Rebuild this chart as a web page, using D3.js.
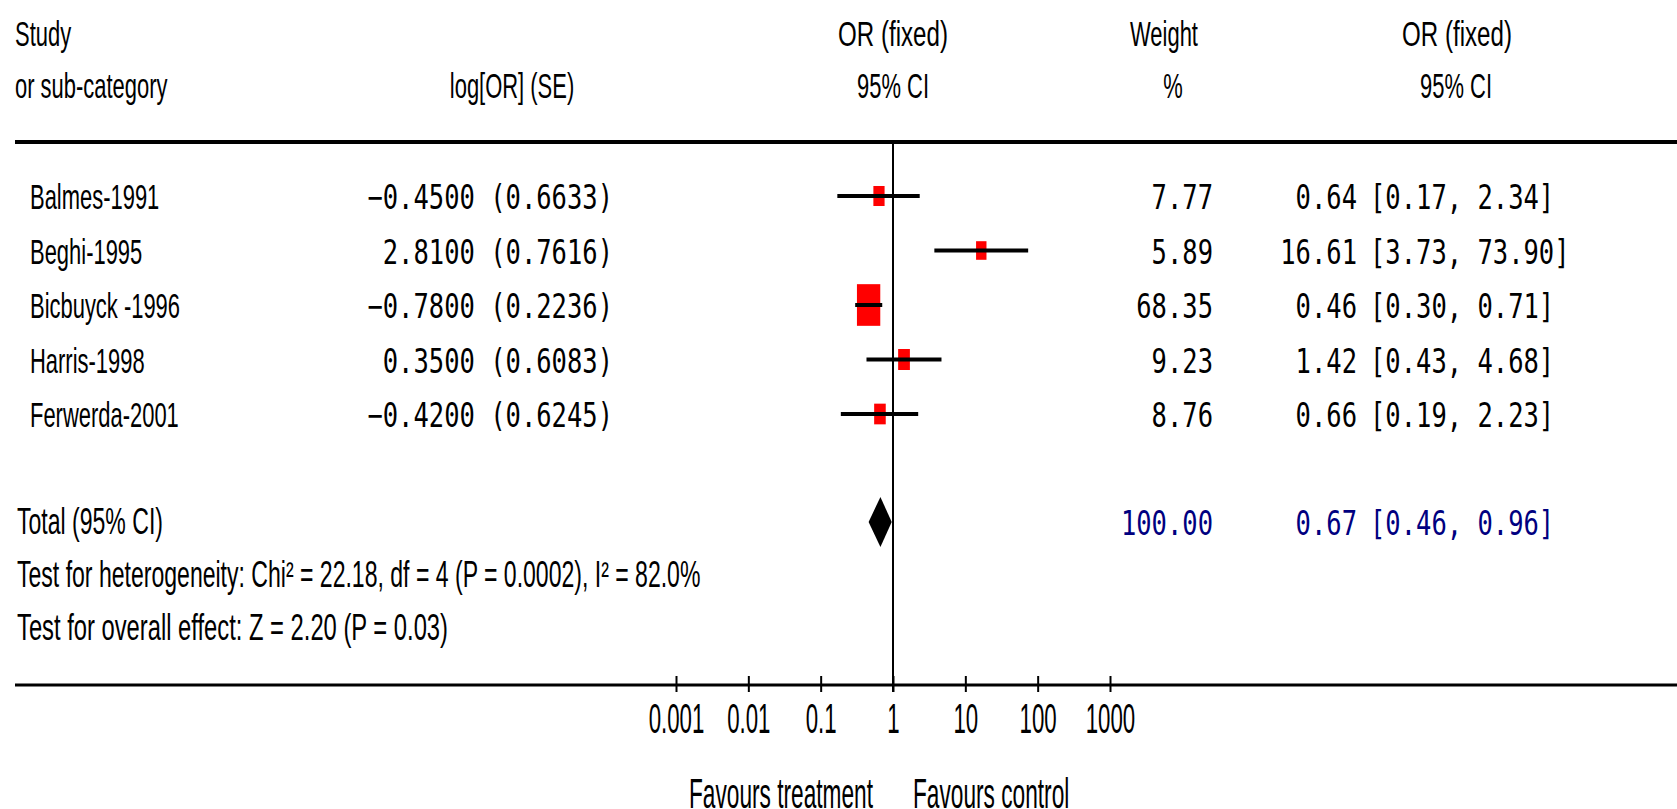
<!DOCTYPE html>
<html>
<head>
<meta charset="utf-8">
<script src="https://cdn.jsdelivr.net/npm/d3@7"></script>
<style>
  html, body { margin: 0; padding: 0; background: #fff; }
  svg { display: block; }
  text { white-space: pre; }
</style>
</head>
<body>
<svg id="chart"></svg>
<script>
const studies = ['Balmes-1991', 'Beghi-1995', 'Bicbuyck -1996', 'Harris-1998', 'Ferwerda-2001']
const logOR = [-0.45, 2.81, -0.78, 0.35, -0.42]
const logSE = [0.6633, 0.7616, 0.2236, 0.6083, 0.6245]
const weights = [7.77, 5.89, 68.35, 9.23, 8.76]
const oddsRatios = [0.64, 16.61, 0.46, 1.42, 0.66]
const ciLow = [0.17, 3.73, 0.30, 0.43, 0.19]
const ciHigh = [2.34, 73.90, 0.71, 4.68, 2.23]

const totalOR = 0.67
const totalLow = 0.46
const totalHigh = 0.96
const totalWeight = 100

const tickValues = [0.001, 0.01, 0.1, 1, 10, 100, 1000]
const tickLabels = ['0.001', '0.01', '0.1', '1', '10', '100', '1000']

const heterogeneity = 'Test for heterogeneity: Chi\u00b2 = 22.18, df = 4 (P = 0.0002), I\u00b2 = 82.0%'
const overallEffect = 'Test for overall effect: Z = 2.20 (P = 0.03)'

const width = 1677
const height = 809
const sans = '"Liberation Sans", Arial, sans-serif'
const mono = '"DejaVu Sans Mono", "Liberation Mono", monospace'

const rows = studies.map((name, i) => ({
  name,
  logOR: logOR[i],
  se: logSE[i],
  weight: weights[i],
  or: oddsRatios[i],
  lo: ciLow[i],
  hi: ciHigh[i]
}))

const svg = d3.select('#chart').attr('width', width).attr('height', height)

const x = d3.scaleLog()
  .domain([0.001, 1000])
  .range([676, 1110])

const y = d3.scalePoint()
  .domain(studies)
  .range([196, 414])

const boxH = d3.scalePow().exponent(0.5)
  .domain([0, 100])
  .range([9, 48.5])

const totalY = 522
const topLineY = 142
const axisY = 685

// condensed text: scale glyphs horizontally around the anchor point
function label(g, px, py, str, opts = {}) {
  return g.append('text')
    .attr('transform', `translate(${px},${py}) scale(${opts.sx || 0.61},1)`)
    .attr('text-anchor', opts.anchor || 'start')
    .attr('font-family', opts.family || sans)
    .attr('font-size', opts.size || 36)
    .attr('fill', opts.fill || '#000')
    .text(str)
}

const monoOpts = { family: mono, size: 34, sx: 0.75 }
const fmt2 = d3.format('.2f')
const fmt4 = d3.format('.4f')

const orEnd = 1357
const ciStart = 1370

// header
const head = svg.append('g').attr('class', 'header')
label(head, 15, 46, 'Study')
label(head, 15, 98, 'or sub-category')
label(head, 512, 98, 'log[OR] (SE)', { anchor: 'middle' })
label(head, x(1), 46, 'OR (fixed)', { anchor: 'middle', sx: 0.67 })
label(head, x(1), 98, '95% CI', { anchor: 'middle' })
label(head, 1164, 46, 'Weight', { anchor: 'middle' })
label(head, 1173, 98, '%', { anchor: 'middle' })
label(head, 1457, 46, 'OR (fixed)', { anchor: 'middle', sx: 0.67 })
label(head, 1456, 98, '95% CI', { anchor: 'middle' })

svg.append('line')
  .attr('x1', 15).attr('x2', width)
  .attr('y1', topLineY).attr('y2', topLineY)
  .attr('stroke', '#000').attr('stroke-width', 4)

// line of no effect
svg.append('line')
  .attr('x1', x(1)).attr('x2', x(1))
  .attr('y1', topLineY).attr('y2', axisY + 7)
  .attr('stroke', '#000').attr('stroke-width', 2)

// study rows
const rowG = svg.append('g').attr('class', 'rows')
  .selectAll('g.row')
  .data(rows)
  .join('g')
  .attr('class', 'row')

rowG.append('rect')
  .attr('x', d => x(d.or) - boxH(d.weight) * 0.56 / 2)
  .attr('y', d => y(d.name) - boxH(d.weight) / 2)
  .attr('width', d => boxH(d.weight) * 0.56)
  .attr('height', d => boxH(d.weight))
  .attr('fill', '#ff0000')

rowG.append('line')
  .attr('x1', d => x(d.lo))
  .attr('x2', d => x(d.hi))
  .attr('y1', d => y(d.name))
  .attr('y2', d => y(d.name))
  .attr('stroke', '#000')
  .attr('stroke-width', 4)

rowG.each(function (d) {
  const g = d3.select(this)
  const base = y(d.name) + 13
  label(g, 30, base, d.name)
  label(g, 613, base, `${fmt4(d.logOR)} (${fmt4(d.se)})`, { ...monoOpts, anchor: 'end' })
  label(g, 1213, base, fmt2(d.weight), { ...monoOpts, anchor: 'end' })
  label(g, orEnd, base, fmt2(d.or), { ...monoOpts, anchor: 'end' })
  label(g, ciStart, base, `[${fmt2(d.lo)}, ${fmt2(d.hi)}]`, monoOpts)
})

// pooled estimate
const navy = '#000080'
svg.append('path')
  .attr('d', d3.line()([
    [x(totalLow), totalY],
    [x(totalOR), totalY - 25],
    [x(totalHigh), totalY],
    [x(totalOR), totalY + 25]
  ]) + 'Z')
  .attr('fill', '#000')

const foot = svg.append('g').attr('class', 'footer')
label(foot, 17, totalY + 12, 'Total (95% CI)', { sx: 0.64 })
label(foot, 1213, totalY + 13, fmt2(totalWeight), { ...monoOpts, anchor: 'end', fill: navy })
label(foot, orEnd, totalY + 13, fmt2(totalOR), { ...monoOpts, anchor: 'end', fill: navy })
label(foot, ciStart, totalY + 13, `[${fmt2(totalLow)}, ${fmt2(totalHigh)}]`, { ...monoOpts, fill: navy })
label(foot, 17, 587, heterogeneity, { sx: 0.64 })
label(foot, 17, 640, overallEffect, { sx: 0.66 })

// log axis
svg.append('line')
  .attr('x1', 15).attr('x2', width)
  .attr('y1', axisY).attr('y2', axisY)
  .attr('stroke', '#000').attr('stroke-width', 3)

const xAxis = g =>
  g.attr('transform', `translate(0, ${axisY - 9})`)
   .call(d3.axisBottom(x)
     .tickValues(tickValues)
     .tickFormat((d, i) => tickLabels[i])
     .tickSize(16))
   .call(g => g.select('.domain').remove())
   .call(g => g.selectAll('.tick line').attr('stroke', '#000').attr('stroke-width', 2))
   .call(g => g.selectAll('.tick text')
     .attr('y', 57)
     .attr('dy', 0)
     .attr('transform', 'scale(0.53,1)')
     .attr('font-family', sans)
     .attr('font-size', 42)
     .attr('fill', '#000'))

svg.append('g').attr('class', 'x-axis').call(xAxis)

label(svg, x(1) - 20, 808, 'Favours treatment', { anchor: 'end', size: 42, sx: 0.54 })
label(svg, x(1) + 20, 808, 'Favours control', { size: 42, sx: 0.54 })
</script>
</body>
</html>
